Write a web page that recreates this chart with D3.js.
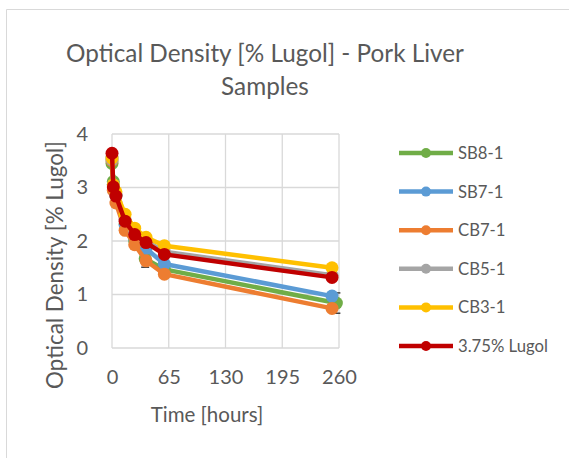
<!DOCTYPE html>
<html>
<head>
<meta charset="utf-8">
<script src="https://cdn.jsdelivr.net/npm/d3@7"></script>
<style>
  html, body { margin: 0; padding: 0; background: #fff; }
  svg { display: block; font-family: Lato, "Open Sans", sans-serif; }
</style>
</head>
<body>
<svg id="chart" width="569" height="458"></svg>
<script>
// Sampling times (hours)
const times = [0, 1.5, 4.5, 15, 26, 39, 60, 252];
const timesSB8 = [0, 1.5, 4.5, 15, 26, 38, 60, 257];

// Optical density per sample [% Lugol]
const sb8 = [3.45, 3.11, 2.85, 2.32, 2.00, 1.67, 1.47, 0.84];
const sb8Err = [0.05, 0.05, 0.05, 0.15, 0.05, 0.16, 0.05, 0.19];
const sb7 = [3.55, 3.05, 2.85, 2.30, 2.05, 1.86, 1.57, 0.97];
const cb7 = [3.50, 2.95, 2.71, 2.20, 1.93, 1.63, 1.38, 0.74];
const cb5 = [3.52, 3.05, 2.88, 2.40, 2.16, 2.00, 1.80, 1.36];
const cb3 = [3.55, 3.05, 2.92, 2.50, 2.24, 2.07, 1.91, 1.50];
const lugol = [3.64, 3.01, 2.84, 2.37, 2.12, 1.97, 1.75, 1.32];

const seriesNames = ["SB8-1", "SB7-1", "CB7-1", "CB5-1", "CB3-1", "3.75% Lugol"];
const seriesColors = ["#70AD47", "#5B9BD5", "#ED7D31", "#A5A5A5", "#FFC000", "#C00000"];

const xTicks = [0, 65, 130, 195, 260];
const yTicks = [0, 1, 2, 3, 4];

const series = [
  { name: seriesNames[0], color: seriesColors[0], x: timesSB8, y: sb8, err: sb8Err },
  { name: seriesNames[1], color: seriesColors[1], x: times, y: sb7 },
  { name: seriesNames[2], color: seriesColors[2], x: times, y: cb7 },
  { name: seriesNames[3], color: seriesColors[3], x: times, y: cb5 },
  { name: seriesNames[4], color: seriesColors[4], x: times, y: cb3 },
  { name: seriesNames[5], color: seriesColors[5], x: times, y: lugol }
];

const svg = d3.select("#chart");
const textColor = "#595959";
const gridColor = "#D9D9D9";

// Chart frame
svg.append("path")
  .attr("d", "M6.5,458 L6.5,9.5 L569,9.5")
  .attr("fill", "none").attr("stroke", gridColor).attr("stroke-width", 1);

const plot = { left: 112, right: 339, top: 134, bottom: 348 };
const x = d3.scaleLinear().domain([0, 260]).range([plot.left, plot.right]);
const y = d3.scaleLinear().domain([0, 4]).range([plot.bottom, plot.top]);

// Title
const title = svg.append("text")
  .attr("text-anchor", "middle").attr("fill", textColor)
  .style("font-size", "24.3px");
title.append("tspan").attr("x", 265).attr("y", 62).text("Optical Density [% Lugol] - Pork Liver");
title.append("tspan").attr("x", 265).attr("y", 95).text("Samples");

// Grid
const g = svg.append("g");
g.selectAll("line.gx").data(xTicks).join("line")
  .attr("x1", d => x(d)).attr("x2", d => x(d))
  .attr("y1", plot.top).attr("y2", plot.bottom)
  .attr("stroke", gridColor).attr("stroke-width", 1.3);
g.selectAll("line.gy").data(yTicks).join("line")
  .attr("y1", d => y(d)).attr("y2", d => y(d))
  .attr("x1", plot.left).attr("x2", plot.right)
  .attr("stroke", gridColor).attr("stroke-width", 1.3);

// Axis tick labels
const xAxis = d3.axisBottom(x).tickValues(xTicks).tickFormat(d3.format("d")).tickSize(0).tickPadding(22);
svg.append("g").attr("transform", `translate(0,${plot.bottom})`).call(xAxis)
  .call(a => a.select(".domain").remove())
  .call(a => a.selectAll("text").attr("fill", textColor)
    .style("font-size", "20px").style("font-family", "Lato, sans-serif"));

const yAxis = d3.axisLeft(y).tickValues(yTicks).tickFormat(d3.format("d")).tickSize(0).tickPadding(24);
svg.append("g").attr("transform", `translate(${plot.left},0)`).call(yAxis)
  .call(a => a.select(".domain").remove())
  .call(a => a.selectAll("text").attr("fill", textColor)
    .style("font-size", "20px").style("font-family", "Lato, sans-serif"));

// Axis titles
svg.append("text").attr("x", 207).attr("y", 422)
  .attr("text-anchor", "middle").attr("fill", textColor)
  .style("font-size", "20.5px").text("Time [hours]");

svg.append("text")
  .attr("transform", "translate(63,265) rotate(-90)")
  .attr("text-anchor", "middle").attr("fill", textColor)
  .style("font-size", "22.4px").text("Optical Density [% Lugol]");

// Error bars
const eb = svg.append("g");
series.filter(s => s.err).forEach(s => {
  s.y.forEach((v, i) => {
    const cx = x(s.x[i]);
    const e = s.err[i];
    eb.append("line").attr("x1", cx).attr("x2", cx)
      .attr("y1", y(v - e)).attr("y2", y(v + e))
      .attr("stroke", "#404040").attr("stroke-width", 1);
    [v - e, v + e].forEach(b => {
      eb.append("line").attr("x1", cx - 4).attr("x2", cx + 4)
        .attr("y1", y(b)).attr("y2", y(b))
        .attr("stroke", "#404040").attr("stroke-width", 1.5);
    });
  });
});

// Series lines and markers
const line = d3.line().x(d => x(d[0])).y(d => y(d[1]));
series.forEach(s => {
  const pts = s.x.map((t, i) => [t, s.y[i]]);
  const sg = svg.append("g");
  sg.append("path").attr("d", line(pts))
    .attr("fill", "none").attr("stroke", s.color)
    .attr("stroke-width", 4.5).attr("stroke-linejoin", "round");
  sg.selectAll("circle").data(pts).join("circle")
    .attr("cx", d => x(d[0])).attr("cy", d => y(d[1]))
    .attr("r", 6.5).attr("fill", s.color);
});

// Legend
const legend = svg.append("g");
series.forEach((s, i) => {
  const ly = 153 + i * 38.6;
  legend.append("line").attr("x1", 399).attr("x2", 453)
    .attr("y1", ly).attr("y2", ly)
    .attr("stroke", s.color).attr("stroke-width", 4.5);
  legend.append("circle").attr("cx", 426).attr("cy", ly).attr("r", 5).attr("fill", s.color);
  legend.append("text").attr("x", 458).attr("y", ly + 6)
    .attr("fill", textColor).style("font-size", "16.7px").text(s.name);
});
</script>
</body>
</html>
